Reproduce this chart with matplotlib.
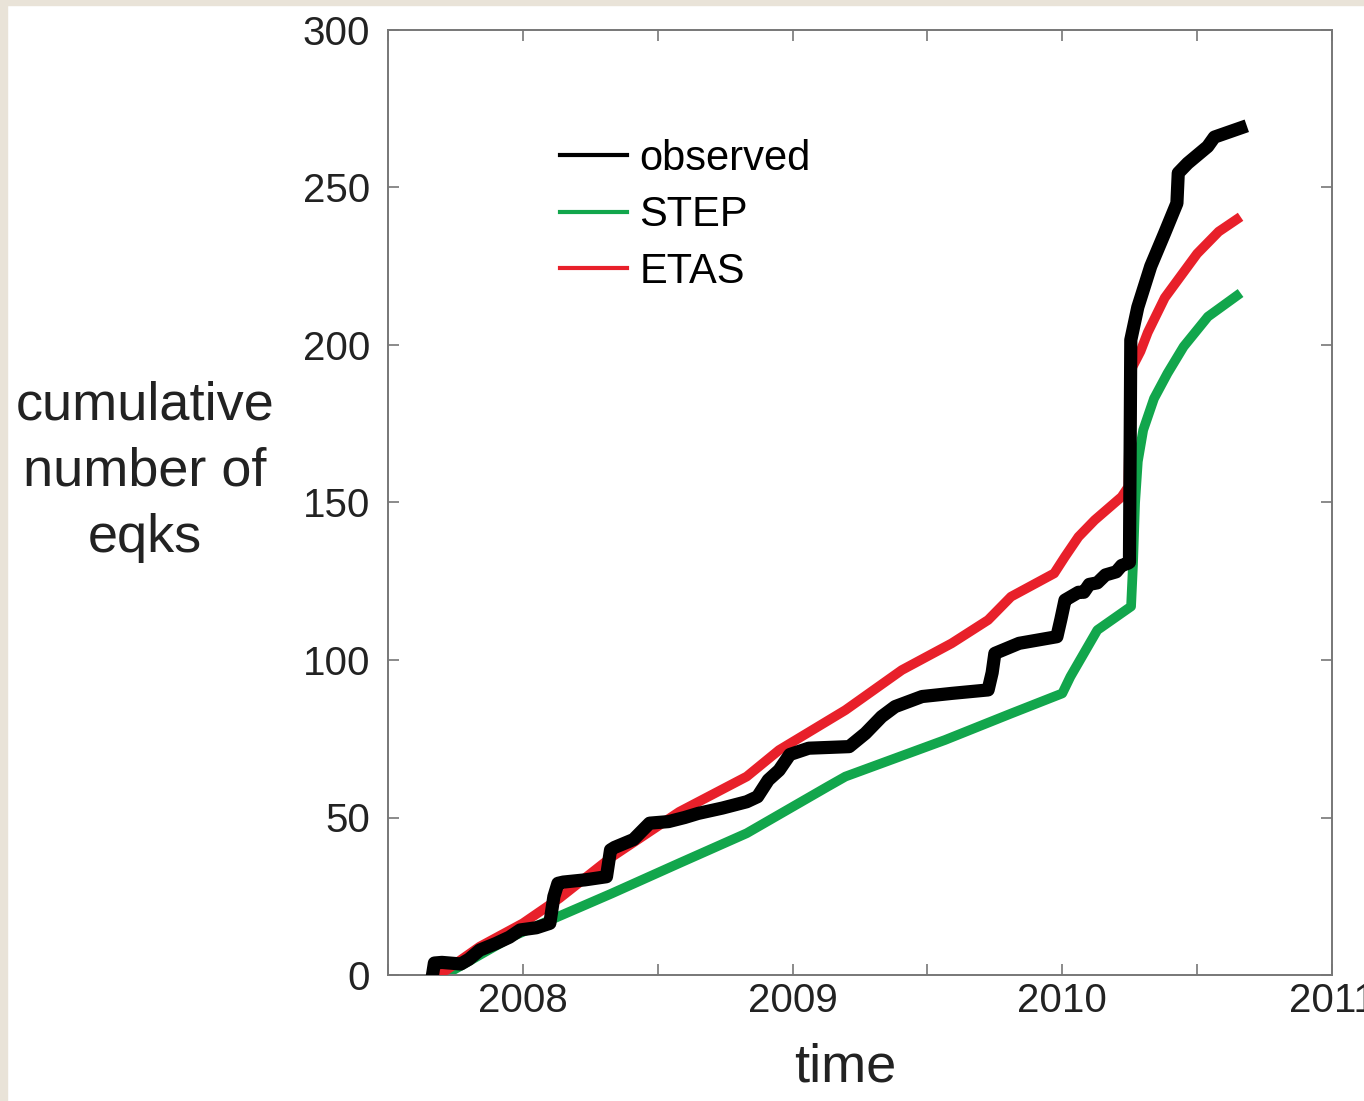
import matplotlib
matplotlib.use("Agg")
import matplotlib.pyplot as plt
from matplotlib.lines import Line2D
from matplotlib.patches import Rectangle
from matplotlib.ticker import MultipleLocator

plt.rcParams["font.family"] = ["Liberation Sans", "DejaVu Sans"]

# observed cumulative count (decimal years)
t_obs = [2007.665, 2007.672, 2007.70, 2007.77, 2007.80, 2007.84, 2007.90, 2007.95,
         2007.99, 2008.05, 2008.10, 2008.115, 2008.13, 2008.15, 2008.23, 2008.31,
         2008.325, 2008.34, 2008.41, 2008.47, 2008.54, 2008.60, 2008.65, 2008.74,
         2008.83, 2008.87, 2008.91, 2008.95, 2008.99, 2009.06, 2009.21, 2009.27,
         2009.33, 2009.38, 2009.48, 2009.59, 2009.725, 2009.74, 2009.75, 2009.84,
         2009.98, 2009.995, 2010.01, 2010.03, 2010.06, 2010.08, 2010.10, 2010.13,
         2010.16, 2010.20, 2010.22, 2010.243, 2010.249,
         2010.254, 2010.28, 2010.328, 2010.379, 2010.425, 2010.43, 2010.465, 2010.539,
         2010.564, 2010.661]
n_obs = [0, 3.8, 4, 3.5, 5, 7.9, 10, 12,
         14.3, 15, 16.4, 24.9, 29.1, 29.5, 30.2, 31.2,
         39.7, 40.5, 43, 48.2, 48.7, 50, 51.3, 53,
         55, 56.6, 61.9, 65, 70, 72, 72.5, 76.7,
         82, 85.2, 88.4, 89.4, 90.5, 96, 102.1, 105.3,
         107.4, 113, 119, 120, 121.5, 121.5, 124, 124.5,
         127, 128, 130, 130.7, 131,
         201.6, 212, 225, 235.4, 245, 254.6, 257.7, 263,
         266, 268.9]

# STEP forecast
t_step = [2007.71, 2007.96, 2008.16, 2008.33, 2008.58, 2008.83, 2009.13, 2009.196,
          2009.565, 2009.81, 2010.0, 2010.03, 2010.08, 2010.13, 2010.255, 2010.262,
          2010.27, 2010.28, 2010.30, 2010.34, 2010.39, 2010.45, 2010.54, 2010.661]
n_step = [0, 12.2, 19.6, 25.9, 35.5, 45, 59.8, 63,
          74.6, 83, 89.4, 94.7, 102.1, 109.5, 117, 130,
          150, 163, 173, 183, 191, 199.5, 209, 216.5]

# ETAS forecast
t_etas = [2007.67, 2007.717, 2007.84, 2008.0, 2008.136, 2008.33, 2008.58, 2008.83,
          2008.95, 2009.196, 2009.405, 2009.59, 2009.725, 2009.81, 2009.97, 2010.01,
          2010.06, 2010.12, 2010.22, 2010.245, 2010.25, 2010.26, 2010.29, 2010.317,
          2010.38, 2010.50, 2010.58, 2010.661]
n_etas = [0, 1.6, 9, 16.4, 24.4, 37.5, 51.8, 63,
          71.4, 84.1, 96.8, 105.3, 112.7, 120.1, 127.5, 132.8,
          139.1, 144.4, 151.8, 155, 185, 193, 198, 204,
          215, 229, 236, 240.7]

c_obs = "#000000"
c_step = "#12a64c"
c_etas = "#e8202a"

fig = plt.figure(figsize=(13.64, 11.01), dpi=100, facecolor="white")
# beige strips at the image edges
fig.patches.append(Rectangle((0, 0), 7 / 1364, 1, transform=fig.transFigure,
                             color="#e9e3d8", zorder=0))
fig.patches.append(Rectangle((0, 1 - 5 / 1101), 1, 5 / 1101, transform=fig.transFigure,
                             color="#e9e3d8", zorder=0))

ax = fig.add_axes([388 / 1364, 1 - 975 / 1101, 944 / 1364, 945 / 1101])

ax.plot(t_step, n_step, color=c_step, lw=7, solid_capstyle="butt", zorder=2)
ax.plot(t_etas, n_etas, color=c_etas, lw=7, solid_capstyle="butt", zorder=3)
ax.plot(t_obs, n_obs, color=c_obs, lw=9.5, solid_joinstyle="round", zorder=4)

ax.set_xlim(2007.5, 2011)
ax.set_ylim(0, 300)
ax.xaxis.set_major_locator(MultipleLocator(1))
ax.xaxis.set_minor_locator(MultipleLocator(0.5))
ax.yaxis.set_major_locator(MultipleLocator(50))
ax.set_xticks([2008, 2009, 2010, 2011])
ax.set_xticklabels(["2008", "2009", "2010", "2011"])

for s in ax.spines.values():
    s.set_color("#777777")
    s.set_linewidth(1.4)
ax.tick_params(which="both", direction="in", top=True, right=True,
               color="#777777", width=1.2, labelcolor="#222222", labelsize=29)
ax.tick_params(which="major", length=8)
ax.tick_params(which="minor", length=8)
ax.tick_params(axis="y", pad=13)
ax.tick_params(axis="x", pad=5)

handles = [Line2D([], [], color=c_obs, lw=3),
           Line2D([], [], color=c_step, lw=3),
           Line2D([], [], color=c_etas, lw=3)]
ax.legend(handles, ["observed", "STEP", "ETAS"], loc="upper left",
          bbox_to_anchor=(0.1825, 0.885), frameon=False, fontsize=30,
          handlelength=1.6, handletextpad=0.3, labelspacing=0.4,
          borderpad=0, borderaxespad=0)

fig.text(845 / 1364, 1 - 1068 / 1101, "time", ha="center", va="center",
         fontsize=39, color="#222222")
fig.text(145 / 1364, 1 - 472 / 1101, "cumulative\nnumber of\neqks", ha="center",
         va="center", fontsize=39, color="#222222", linespacing=1.42)

fig.savefig("out.png", dpi=100, facecolor=fig.get_facecolor())
